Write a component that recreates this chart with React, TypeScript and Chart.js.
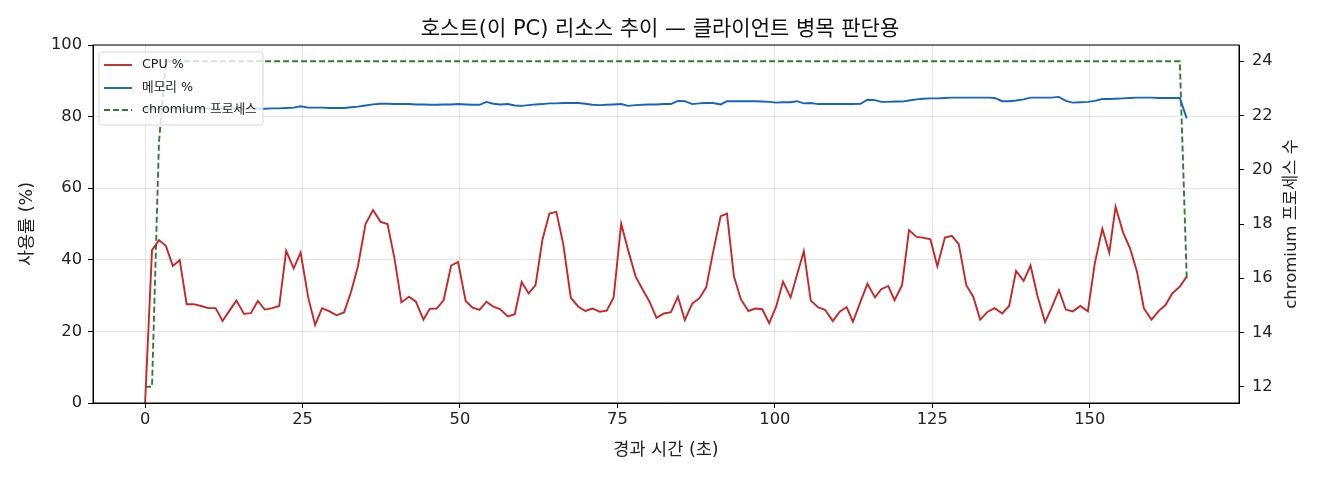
import React, { useEffect, useRef } from "react";
import { Chart, registerables } from "chart.js";

Chart.register(...registerables);

const TITLE = "호스트(이 PC) 리소스 추이 — 클라이언트 병목 판단용";
const X_LABEL = "경과 시간 (초)";
const Y_LEFT_LABEL = "사용률 (%)";
const Y_RIGHT_LABEL = "chromium 프로세스 수";
const SERIES_NAMES = ["CPU %", "메모리 %", "chromium 프로세스"];
const SERIES_COLORS = ["#c62828", "#1565c0", "#2e7d32"];

const X_TICKS = [0, 25, 50, 75, 100, 125, 150];
const Y_LEFT_TICKS = [0, 20, 40, 60, 80, 100];
const Y_RIGHT_TICKS = [12, 14, 16, 18, 20, 22, 24];

const TIME = [
  0, 1.1, 2.2, 3.3, 4.4, 5.5, 6.6, 7.7, 8.9, 10.0,
  11.2, 12.3, 13.4, 14.5, 15.7, 16.8, 17.9, 19.0, 20.2, 21.3,
  22.4, 23.6, 24.7, 25.9, 27.0, 28.1, 29.3, 30.4, 31.6, 32.7,
  33.8, 35.0, 36.2, 37.4, 38.5, 39.6, 40.7, 41.9, 43.0, 44.2,
  45.2, 46.3, 47.4, 48.6, 49.7, 50.9, 52.0, 53.1, 54.2, 55.3,
  56.4, 57.6, 58.7, 59.8, 60.9, 62.0, 63.1, 64.2, 65.3, 66.4,
  67.6, 68.8, 69.9, 71.0, 72.2, 73.3, 74.4, 75.6, 76.7, 77.9,
  79.0, 80.1, 81.2, 82.4, 83.5, 84.6, 85.7, 86.9, 88.0, 89.1,
  90.2, 91.4, 92.4, 93.5, 94.6, 95.8, 96.9, 98.0, 99.1, 100.2,
  101.3, 102.5, 103.5, 104.6, 105.7, 106.9, 108.0, 109.2, 110.3, 111.4,
  112.4, 113.6, 114.7, 115.9, 116.9, 118.0, 119.0, 120.2, 121.3, 122.5,
  123.5, 124.7, 125.8, 127.0, 128.1, 129.2, 130.4, 131.5, 132.6, 133.8,
  134.9, 136.1, 137.2, 138.3, 139.5, 140.6, 141.7, 142.9, 143.9, 145.1,
  146.2, 147.3, 148.5, 149.7, 150.8, 152.0, 153.1, 154.1, 155.3, 156.4,
  157.5, 158.6, 159.8, 161.0, 162.0, 163.1, 164.3, 165.4,
];

const CPU = [
  0, 42.7, 45.5, 43.9, 38.3, 39.9, 27.6, 27.6, 27.1, 26.5,
  26.5, 22.9, 25.8, 28.6, 24.9, 25.1, 28.5, 26.1, 26.5, 27.1,
  42.5, 37.6, 42.0, 29.5, 21.8, 26.5, 25.6, 24.5, 25.3, 31.0,
  38.2, 50.0, 53.9, 50.6, 50.0, 40.4, 28.1, 29.7, 28.3, 23.3,
  26.3, 26.4, 28.7, 38.4, 39.4, 28.5, 26.6, 26.0, 28.3, 26.9,
  26.2, 24.2, 24.8, 33.8, 30.6, 32.9, 45.7, 52.9, 53.4, 44.4,
  29.4, 26.9, 25.7, 26.4, 25.5, 25.8, 29.5, 50.1, 42.7, 35.3,
  31.7, 28.3, 23.8, 25.0, 25.4, 29.7, 23.2, 27.8, 29.2, 32.3,
  42.2, 52.2, 52.9, 35.4, 29.0, 25.7, 26.4, 26.2, 22.3, 26.9,
  33.9, 29.5, 35.7, 42.4, 28.6, 26.7, 26.0, 22.9, 25.5, 26.8,
  22.7, 28.3, 33.3, 29.5, 31.8, 32.7, 28.7, 32.9, 48.3, 46.4,
  46.2, 45.7, 38.2, 46.2, 46.7, 44.4, 32.9, 29.7, 23.3, 25.5,
  26.5, 25.0, 27.1, 36.9, 34.1, 38.4, 29.9, 22.6, 26.4, 31.5,
  26.1, 25.6, 27.1, 25.6, 39.0, 48.7, 42.0, 54.8, 47.6, 43.2,
  36.7, 26.4, 23.3, 25.8, 27.3, 30.6, 32.5, 35.3,
];

const MEM = [
  82.0, 82.1, 82.2, 82.2, 82.3, 82.2, 82.3, 82.3, 82.2, 82.3,
  82.3, 82.2, 82.3, 82.3, 82.2, 82.3, 82.2, 82.2, 82.3, 82.3,
  82.4, 82.5, 82.9, 82.5, 82.5, 82.5, 82.4, 82.4, 82.4, 82.6,
  82.8, 83.1, 83.4, 83.6, 83.6, 83.5, 83.5, 83.5, 83.4, 83.4,
  83.3, 83.3, 83.4, 83.4, 83.5, 83.4, 83.3, 83.3, 84.1, 83.6,
  83.4, 83.5, 83.1, 83.0, 83.2, 83.4, 83.5, 83.7, 83.7, 83.8,
  83.8, 83.8, 83.6, 83.3, 83.2, 83.3, 83.4, 83.5, 83.0, 83.2,
  83.3, 83.4, 83.4, 83.5, 83.5, 84.4, 84.3, 83.5, 83.7, 83.8,
  83.8, 83.4, 84.3, 84.3, 84.3, 84.3, 84.3, 84.2, 84.1, 83.9,
  84.0, 84.0, 84.3, 83.7, 83.8, 83.5, 83.5, 83.5, 83.5, 83.5,
  83.5, 83.6, 84.7, 84.6, 84.1, 84.1, 84.2, 84.2, 84.5, 84.8,
  85.0, 85.1, 85.1, 85.2, 85.3, 85.3, 85.3, 85.3, 85.3, 85.3,
  85.2, 84.3, 84.3, 84.5, 84.8, 85.3, 85.3, 85.3, 85.3, 85.5,
  84.4, 83.9, 84.0, 84.1, 84.4, 84.9, 84.9, 85.0, 85.1, 85.2,
  85.3, 85.3, 85.3, 85.2, 85.2, 85.2, 85.2, 79.5,
];

const CHROMIUM = [
  12, 12, 21, 24, 24, 24, 24, 24, 24, 24,
  24, 24, 24, 24, 24, 24, 24, 24, 24, 24,
  24, 24, 24, 24, 24, 24, 24, 24, 24, 24,
  24, 24, 24, 24, 24, 24, 24, 24, 24, 24,
  24, 24, 24, 24, 24, 24, 24, 24, 24, 24,
  24, 24, 24, 24, 24, 24, 24, 24, 24, 24,
  24, 24, 24, 24, 24, 24, 24, 24, 24, 24,
  24, 24, 24, 24, 24, 24, 24, 24, 24, 24,
  24, 24, 24, 24, 24, 24, 24, 24, 24, 24,
  24, 24, 24, 24, 24, 24, 24, 24, 24, 24,
  24, 24, 24, 24, 24, 24, 24, 24, 24, 24,
  24, 24, 24, 24, 24, 24, 24, 24, 24, 24,
  24, 24, 24, 24, 24, 24, 24, 24, 24, 24,
  24, 24, 24, 24, 24, 24, 24, 24, 24, 24,
  24, 24, 24, 24, 24, 24, 24, 16,
];

const FONT = '"DejaVu Sans", "Noto Sans CJK KR", sans-serif';
const TICK_SIZE = 16.3;
const LABEL_SIZE = 17.5;

const toPoints = (ys: number[]) => ys.map((y, i) => ({ x: TIME[i], y }));

const overlayPlugin = {
  id: "overlay",
  afterDraw(chart: any) {
    const { ctx, chartArea: a } = chart;
    ctx.save();
    // full frame (top spine)
    ctx.strokeStyle = "#000";
    ctx.lineWidth = 1;
    ctx.strokeRect(a.left, a.top, a.right - a.left, a.bottom - a.top);

    // legend
    const bx = a.left + 6;
    const by = a.top + 7;
    const bw = 164;
    const bh = 73;
    const r = 3;
    ctx.beginPath();
    ctx.moveTo(bx + r, by);
    ctx.lineTo(bx + bw - r, by);
    ctx.quadraticCurveTo(bx + bw, by, bx + bw, by + r);
    ctx.lineTo(bx + bw, by + bh - r);
    ctx.quadraticCurveTo(bx + bw, by + bh, bx + bw - r, by + bh);
    ctx.lineTo(bx + r, by + bh);
    ctx.quadraticCurveTo(bx, by + bh, bx, by + bh - r);
    ctx.lineTo(bx, by + r);
    ctx.quadraticCurveTo(bx, by, bx + r, by);
    ctx.closePath();
    ctx.fillStyle = "rgba(255,255,255,0.8)";
    ctx.fill();
    ctx.strokeStyle = "rgba(204,204,204,0.8)";
    ctx.lineWidth = 1;
    ctx.stroke();

    const rows = [by + 13, by + 36, by + 58];
    SERIES_NAMES.forEach((name, i) => {
      ctx.beginPath();
      ctx.strokeStyle = SERIES_COLORS[i];
      ctx.lineWidth = 1.9;
      ctx.setLineDash(i === 2 ? [6, 3] : []);
      ctx.moveTo(bx + 5, rows[i]);
      ctx.lineTo(bx + 33, rows[i]);
      ctx.stroke();
      ctx.setLineDash([]);
      ctx.fillStyle = "#222";
      ctx.font = `12.7px ${FONT}`;
      ctx.textAlign = "left";
      ctx.textBaseline = "middle";
      ctx.fillText(name, bx + 43, rows[i]);
    });

    // right axis title, rotated bottom-to-top
    ctx.translate(1292, (a.top + a.bottom) / 2);
    ctx.rotate(-Math.PI / 2);
    ctx.fillStyle = "#222";
    ctx.font = `16.5px ${FONT}`;
    ctx.textAlign = "center";
    ctx.textBaseline = "middle";
    ctx.fillText(Y_RIGHT_LABEL, 0, 0);
    ctx.restore();
  },
};

export default function App() {
  const ref = useRef<HTMLCanvasElement | null>(null);

  useEffect(() => {
    if (!ref.current) return;
    const gridColor = "rgba(0,0,0,0.1)";
    const chart = new Chart(ref.current, {
      type: "line",
      data: {
        datasets: [
          {
            label: SERIES_NAMES[0],
            data: toPoints(CPU),
            borderColor: SERIES_COLORS[0],
            backgroundColor: SERIES_COLORS[0],
            borderWidth: 1.9,
            pointRadius: 0,
            tension: 0,
            yAxisID: "y",
          },
          {
            label: SERIES_NAMES[1],
            data: toPoints(MEM),
            borderColor: SERIES_COLORS[1],
            backgroundColor: SERIES_COLORS[1],
            borderWidth: 1.9,
            pointRadius: 0,
            tension: 0,
            yAxisID: "y",
          },
          {
            label: SERIES_NAMES[2],
            data: toPoints(CHROMIUM),
            borderColor: SERIES_COLORS[2],
            backgroundColor: SERIES_COLORS[2],
            borderWidth: 1.9,
            borderDash: [6, 3],
            pointRadius: 0,
            tension: 0,
            yAxisID: "y1",
          },
        ],
      },
      options: {
        animation: false,
        responsive: true,
        maintainAspectRatio: false,
        layout: { padding: 0 },
        plugins: {
          legend: { display: false },
          tooltip: { enabled: false },
          title: {
            display: true,
            text: TITLE,
            color: "#111",
            font: { family: FONT, size: 21, weight: "normal" },
            padding: { top: 17, bottom: 2.8 },
          },
        },
        scales: {
          x: {
            type: "linear",
            min: -8.27,
            max: 173.7,
            afterBuildTicks: (s: any) => {
              s.ticks = X_TICKS.map((v) => ({ value: v }));
            },
            afterFit: (s: any) => {
              s.height = 77;
            },
            grid: { color: gridColor, tickColor: "#000", tickLength: 5 },
            border: { color: "#000", width: 1 },
            ticks: {
              color: "#222",
              font: { family: FONT, size: TICK_SIZE },
              padding: 2,
              maxRotation: 0,
            },
            title: {
              display: true,
              text: X_LABEL,
              color: "#222",
              font: { family: FONT, size: LABEL_SIZE },
              padding: { top: 0, bottom: 19.5 },
            },
          },
          y: {
            type: "linear",
            position: "left",
            min: 0,
            max: 100,
            afterBuildTicks: (s: any) => {
              s.ticks = Y_LEFT_TICKS.map((v) => ({ value: v }));
            },
            afterFit: (s: any) => {
              s.width = 93;
            },
            grid: { color: gridColor, tickColor: "#000", tickLength: 5 },
            border: { color: "#000", width: 1 },
            ticks: {
              color: "#222",
              font: { family: FONT, size: TICK_SIZE },
              padding: 6,
            },
            title: {
              display: true,
              text: Y_LEFT_LABEL,
              color: "#222",
              font: { family: FONT, size: LABEL_SIZE },
              padding: { top: 16.5, bottom: 0 },
            },
          },
          y1: {
            type: "linear",
            position: "right",
            min: 11.4,
            max: 24.6,
            afterBuildTicks: (s: any) => {
              s.ticks = Y_RIGHT_TICKS.map((v) => ({ value: v }));
            },
            afterFit: (s: any) => {
              s.width = 81;
            },
            grid: {
              drawOnChartArea: false,
              tickColor: "#000",
              tickLength: 5,
            },
            border: { color: "#000", width: 1 },
            ticks: {
              color: "#222",
              font: { family: FONT, size: TICK_SIZE },
              padding: 8,
            },
          },
        },
      },
      plugins: [overlayPlugin],
    });
    return () => chart.destroy();
  }, []);

  return (
    <div style={{ position: "fixed", left: 0, top: 0, width: 1320, height: 480, background: "#fff" }}>
      <canvas ref={ref} />
    </div>
  );
}
